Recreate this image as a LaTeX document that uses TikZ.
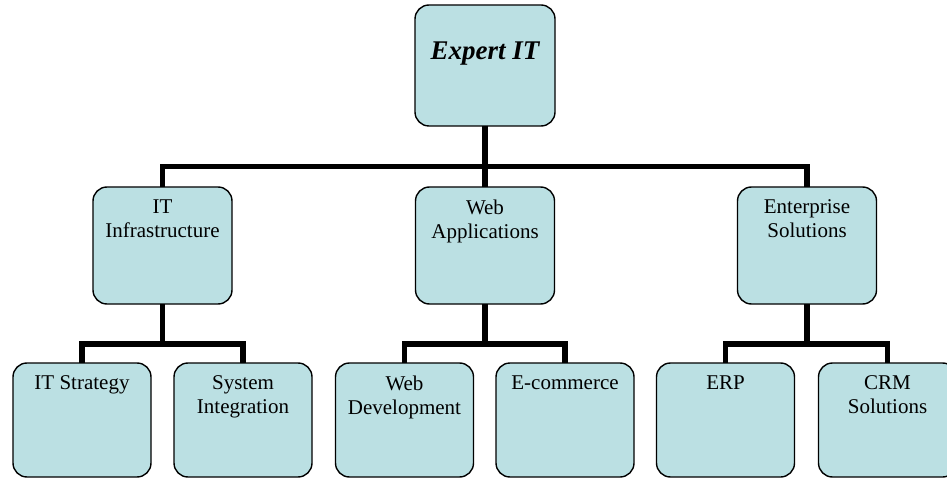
\documentclass[tikz,border=0pt]{standalone}
\usepackage{fontspec}
\setmainfont{Liberation Serif}
\usepackage{xcolor}
\definecolor{cFill}{HTML}{BBE0E3}
\definecolor{cLine}{HTML}{000000}
\usepackage{tikz}
\usetikzlibrary{positioning}
\tikzset{
  unit-box/.style={draw=cLine,line width=1.4pt,fill=cFill,rounded corners=14pt,
    minimum width=139pt,minimum height=117pt,inner sep=0pt,outer sep=0pt},
  unit-top/.style={unit-box,minimum width=140pt,minimum height=121pt},
  unit-leaf/.style={unit-box,minimum width=138pt,minimum height=114pt},
  % text sits near the top edge of each box
  unit-text/.style={anchor=north,inner sep=0pt,align=center,yshift=-12.5pt,
    font=\fontsize{21}{24}\selectfont},
  unit-title/.style={anchor=north,inner sep=0pt,yshift=-37pt,
    font=\fontsize{27}{30}\selectfont\bfseries\itshape},
  link/.style={draw=cLine,line width=5.5pt},
}

\begin{document}
\begin{tikzpicture}[x=1pt,y=1pt]
  \useasboundingbox (0,0) rectangle (947,-478);
  \clip (0,0) rectangle (947,-478);

  % top
  \node[unit-top,label={[unit-title,name=top-t]north:Expert IT}] (top) at (485,-65.5) {};

  % divisions
  \node[unit-box,below=61pt of top,
    label={[unit-text,name=web-t]north:Web\\Applications}]          (web)   {};
  \node[unit-box,left=183.5pt of web,
    label={[unit-text,name=infra-t]north:IT\\Infrastructure}]       (infra) {};
  \node[unit-box,right=183pt of web,
    label={[unit-text,name=ent-t]north:Enterprise\\Solutions}]      (ent)   {};

  % services
  \node[unit-leaf,below=59pt of infra,xshift=-80.5pt,
    label={[unit-text,name=strat-t]north:IT Strategy}]              (strat) {};
  \node[unit-leaf,below=59pt of infra,xshift=80.5pt,
    label={[unit-text,name=integ-t]north:System\\Integration}]      (integ) {};
  \node[unit-leaf,below=59pt of web,xshift=-80.5pt,
    label={[unit-text,name=webdev-t]north:Web\\Development}]        (webdev){};
  \node[unit-leaf,below=59pt of web,xshift=80pt,
    label={[unit-text,name=ecom-t]north:E-commerce}]                (ecom)  {};
  \node[unit-leaf,below=59pt of ent,xshift=-81.5pt,
    label={[unit-text,name=erp-t]north:ERP}]                        (erp)   {};
  \node[unit-leaf,below=59pt of ent,xshift=80.5pt,
    label={[unit-text,name=crm-t]north:CRM\\Solutions}]             (crm)   {};

  \draw[link] (top.south) -- ++(0,-40.5) -| (infra.north);
  \draw[link] (top.south) -- ++(0,-40.5) -| (ent.north);
  \draw[link] (top) -- (web);
  \draw[link] (infra.south) -- ++(0,-40) -| (strat.north);
  \draw[link] (infra.south) -- ++(0,-40) -| (integ.north);
  \draw[link] (web.south) -- ++(0,-40) -| (webdev.north);
  \draw[link] (web.south) -- ++(0,-40) -| (ecom.north);
  \draw[link] (ent.south) -- ++(0,-40) -| (erp.north);
  \draw[link] (ent.south) -- ++(0,-40) -| (crm.north);
\end{tikzpicture}
\end{document}
